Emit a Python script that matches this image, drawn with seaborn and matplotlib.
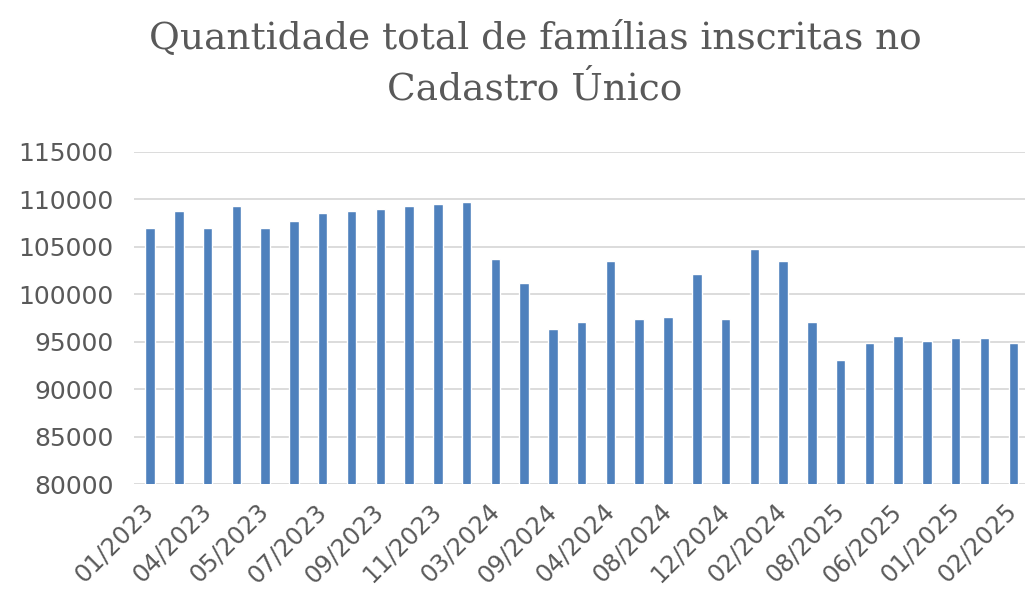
import matplotlib
matplotlib.use("Agg")
import matplotlib.pyplot as plt
import seaborn as sns
import numpy as np
import pandas as pd

# valores (31 barras, rótulo a cada duas)
valores = [107000, 108800, 107000, 109300, 107000, 107750, 108500, 108800,
           109000, 109300, 109500, 109750, 103700, 101200, 96350, 97100,
           103450, 97350, 97600, 102150, 97350, 104700, 103450, 97100,
           93050, 94850, 95600, 95100, 95350, 95350, 94850]
rotulos = ["01/2023", "04/2023", "05/2023", "07/2023", "09/2023", "11/2023",
           "03/2024", "09/2024", "04/2024", "08/2024", "12/2024", "02/2024",
           "08/2025", "06/2025", "01/2025", "02/2025"]
yticks = [80000, 85000, 90000, 95000, 100000, 105000, 110000, 115000]
titulo = "Quantidade total de famílias inscritas no\nCadastro Único"

df = pd.DataFrame({"pos": np.arange(len(valores)), "valor": valores})

sns.set_style("white")
fig = plt.figure(figsize=(10.25, 6.02), dpi=100)
ax = fig.add_axes([0.131, 0.196, 0.873, 0.552])

sns.barplot(data=df, x="pos", y="valor", color="#4F81BD", width=0.33,
            saturation=1, ax=ax, zorder=3)

ax.set_ylim(80000, 115000)
ax.set_xlim(-0.55, len(valores) - 0.45)
ax.set_yticks(yticks)
ax.set_yticklabels([str(v) for v in yticks], color="#595959", fontsize=18,
                   family="DejaVu Sans")
ax.grid(axis="y", color="#D9D9D9", linewidth=1.3, zorder=0)
ax.set_xticks(np.arange(0, len(valores), 2))
ax.set_xticklabels(rotulos, rotation=45, ha="right", va="center",
                   rotation_mode="anchor", color="#595959", fontsize=17.5,
                   family="DejaVu Sans")
ax.tick_params(axis="y", length=0, pad=15)
ax.tick_params(axis="x", length=0, pad=17)
ax.set_xlabel("")
ax.set_ylabel("")
for s in ax.spines.values():
    s.set_visible(False)

fig.text(0.522, 0.965, titulo, ha="center", va="top", fontsize=27,
         color="#595959", family="DejaVu Serif", linespacing=1.5)

fig.savefig("out.png", dpi=100, facecolor="white")
